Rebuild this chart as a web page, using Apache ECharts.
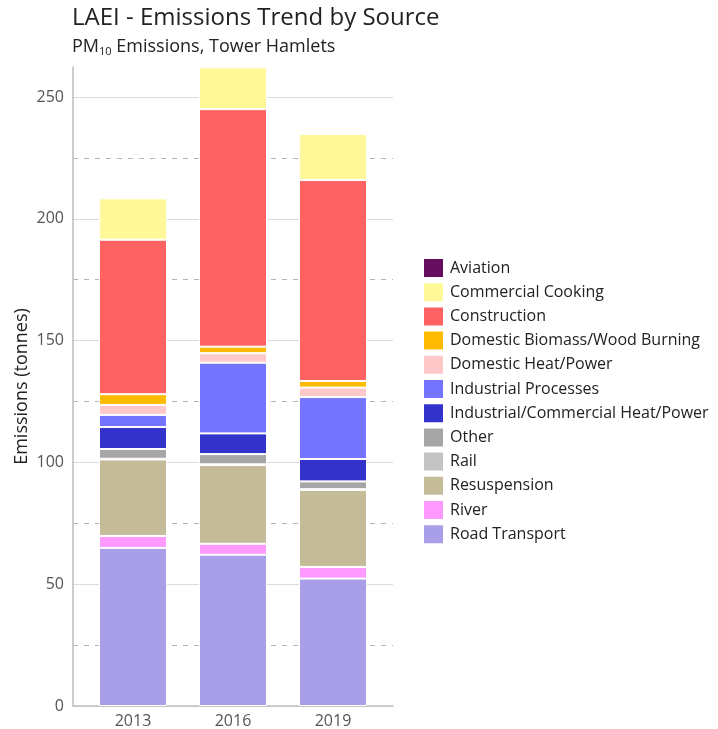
<!DOCTYPE html>
<html>
<head>
<meta charset="utf-8">
<script src="https://cdn.jsdelivr.net/npm/echarts@6/dist/echarts.min.js"></script>
<style>
  html, body { margin: 0; padding: 0; background: #fff; }
  #chart { width: 718px; height: 729px; }
</style>
</head>
<body>
<div id="chart"></div>
<script>
const years = ['2013', '2016', '2019']

// tonnes of PM10 (bottom of the stack first)
const roadTransport = [64.9, 62.1, 52.3]
const river = [4.9, 4.5, 4.8]
const resuspension = [31.4, 32.3, 31.6]
const rail = [0.3, 0.3, 0.3]
const other = [4.0, 4.2, 3.2]
const indCommHeatPower = [9.0, 8.5, 9.2]
const industrialProcesses = [5.0, 29.0, 25.4]
const domesticHeatPower = [4.1, 3.9, 3.9]
const domesticBiomass = [4.4, 2.7, 2.7]
const construction = [63.4, 97.5, 82.5]
const commercialCooking = [17.0, 17.2, 18.9]
const aviation = [0.1, 0.1, 0.1]

const yTicks = [0, 50, 100, 150, 200, 250]

const sources = [
  { name: 'Road Transport', data: roadTransport, color: '#a89fe8' },
  { name: 'River', data: river, color: '#ff99ff' },
  { name: 'Resuspension', data: resuspension, color: '#c4bc98' },
  { name: 'Rail', data: rail, color: '#c4c4c4' },
  { name: 'Other', data: other, color: '#a6a6a6' },
  { name: 'Industrial/Commercial Heat/Power', data: indCommHeatPower, color: '#3333cc' },
  { name: 'Industrial Processes', data: industrialProcesses, color: '#7474ff' },
  { name: 'Domestic Heat/Power', data: domesticHeatPower, color: '#ffc9c9' },
  { name: 'Domestic Biomass/Wood Burning', data: domesticBiomass, color: '#ffbb00' },
  { name: 'Construction', data: construction, color: '#ff6262' },
  { name: 'Commercial Cooking', data: commercialCooking, color: '#fff899' },
  { name: 'Aviation', data: aviation, color: '#660e60' },
]

const totals = years.map((y, i) => sources.reduce((s, src) => s + src.data[i], 0))
const yMax = Math.max(...totals)

const font = 'Open Sans'

const chart = echarts.init(document.getElementById('chart'))
chart.setOption({
  animation: false,
  textStyle: { fontFamily: font },
  title: {
    left: 72,
    top: 6,
    padding: 0,
    itemGap: 5,
    text: 'LAEI - Emissions Trend by Source',
    textStyle: { fontFamily: font, fontSize: 24, fontWeight: 'normal', color: '#222' },
    subtext: '{n|PM}{s|10}{n| Emissions, Tower Hamlets}',
    subtextStyle: {
      rich: {
        n: { fontFamily: font, fontSize: 18, color: '#222', lineHeight: 24 },
        s: { fontFamily: font, fontSize: 11, color: '#222', lineHeight: 24, padding: [10, 0, 0, 0] },
      },
    },
  },
  legend: {
    orient: 'vertical',
    left: 417,
    top: 252,
    itemWidth: 21,
    itemHeight: 20,
    itemGap: 2.2,
    icon: 'rect',
    data: sources.map(s => s.name).reverse(),
    textStyle: { fontFamily: font, fontSize: 16, lineHeight: 20, color: '#222', padding: [0, 0, 0, 1] },
  },
  grid: { left: 73, right: 325, top: 67, bottom: 23 },
  xAxis: {
    type: 'value',
    min: 0.4,
    max: 3.6,
    splitLine: { show: false },
    axisTick: { show: false },
    axisLine: { show: true, lineStyle: { color: '#bdbdbd', width: 1.5 } },
    axisLabel: {
      customValues: [1, 2, 3],
      formatter: v => years[Math.round(v) - 1] || '',
      color: '#555',
      fontSize: 16,
      margin: 7,
    },
  },
  yAxis: {
    type: 'value',
    min: 0,
    max: yMax,
    interval: 50,
    name: 'Emissions (tonnes)',
    nameLocation: 'middle',
    nameGap: 42,
    nameTextStyle: { fontFamily: font, fontSize: 18, color: '#222' },
    axisLine: { show: true, lineStyle: { color: '#bdbdbd', width: 1.5 } },
    axisTick: { show: false },
    axisLabel: {
      color: '#555',
      fontSize: 16,
      margin: 9,
      showMaxLabel: false,
      formatter: v => (yTicks.includes(v) ? String(v) : ''),
    },
    splitLine: { show: true, showMaxLine: false, lineStyle: { color: '#dcdcdc', width: 1 } },
    minorTick: { show: false, splitNumber: 2 },
    minorSplitLine: { show: true, lineStyle: { color: '#b5b5b5', width: 1, type: [5, 6] } },
  },
  // value first so the stack runs on y; x holds the bar position 1..3
  series: sources.map(s => ({
    name: s.name,
    type: 'bar',
    stack: 'total',
    barWidth: 68,
    encode: { x: 1, y: 0 },
    itemStyle: { color: s.color, borderColor: '#fff', borderWidth: 1 },
    data: s.data.map((v, i) => [v, i + 1]),
  })),
})
</script>
</body>
</html>
